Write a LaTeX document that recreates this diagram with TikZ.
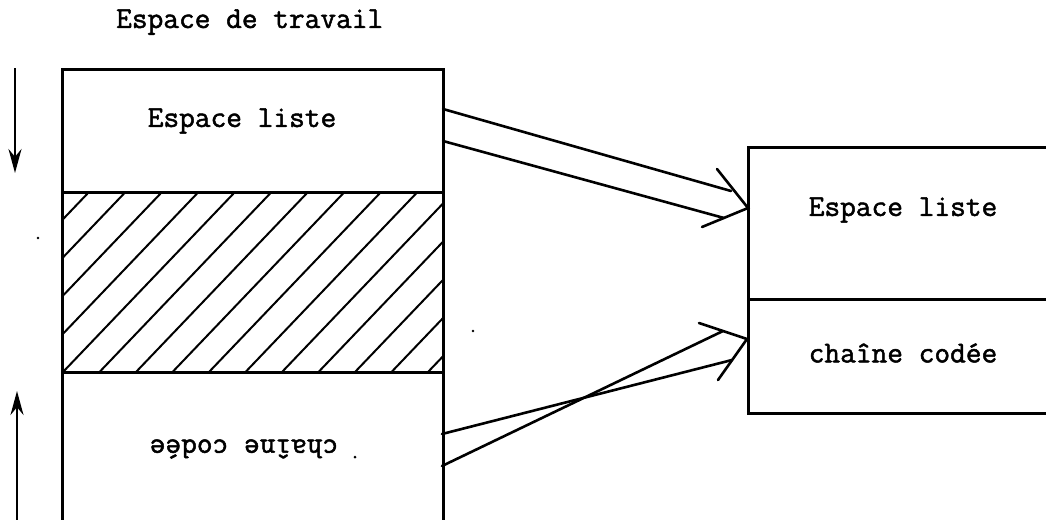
\documentclass[tikz,border=0pt]{standalone}
\usepackage{fontspec}
\newfontfamily\tw{Latin Modern Mono}[FakeBold=1.6]
\usetikzlibrary{arrows.meta}
\begin{document}
\begin{tikzpicture}[x=1pt,y=-1pt,
  boxline/.style={line width=3pt},
  hatchline/.style={line width=2pt},
  conn/.style={line width=2.6pt,line cap=round},
  vhead/.style={line width=2.6pt,line cap=round,line join=miter},
  flow/.style={line width=2.3pt,-{Stealth[length=24pt,width=13pt]}},
  lbl/.style={font=\tw\fontsize{30.5}{34}\selectfont,inner sep=0pt},
  speck/.style={fill=black,draw=none}]
\useasboundingbox (0,0) rectangle (1046,519);
% ---- left box (workspace) ----
\coordinate (LTL) at (62,69);
\coordinate (LTR) at (443,69);
\coordinate (LBL) at (62,530);
\coordinate (LBR) at (443,530);
\draw[boxline] (LBL) -- (LTL) -- (LTR) -- (LBR);
\coordinate (D1L) at (62,192); \coordinate (D1R) at (443,192);
\coordinate (D2L) at (62,372); \coordinate (D2R) at (443,372);
\draw[boxline] (D1L) -- (D1R);
\draw[boxline] (D2L) -- (D2R);
% hatching
\begin{scope}
  \clip (62,192) rectangle (443,372);
  \foreach \k in {-6,...,11}{
    \draw[hatchline] ({63+36.5*\k},372) -- ({63+36.5*\k+172},192);
  }
\end{scope}
% labels
\node[lbl,anchor=base west] (title) at (116,28) {Espace de travail};
\node[lbl] (el1) at (242,121) {Espace liste};
\node[lbl,rotate=180] (cc1) at (244,449) {chaîne codée};
% vertical arrows
\coordinate (A1s) at (15,68); \coordinate (A1e) at (15,173);
\draw[flow] (A1s) -- (A1e);
\coordinate (A2s) at (17,525); \coordinate (A2e) at (17,391);
\draw[flow] (A2s) -- (A2e);
% ---- right box ----
\coordinate (RTL) at (748,147);
\coordinate (RTR) at (1060,147);
\coordinate (RBL) at (748,413);
\coordinate (RBR) at (1060,413);
\coordinate (RDL) at (748,299);
\coordinate (RDR) at (1060,299);
\draw[boxline] (RTR) -- (RTL) -- (RBL) -- (RBR);
\draw[boxline] (RDL) -- (RDR);
\node[lbl] (el2) at (903,210) {Espace liste};
\node[lbl] (cc2) at (903,353) {chaîne codée};
% ---- upper double arrow ----
\coordinate (U1s) at (443,109); \coordinate (U1e) at (731,191);
\coordinate (U2s) at (443,141); \coordinate (U2e) at (724,218);
\coordinate (Utip) at (748,208);
\coordinate (Ub1) at (717,169); \coordinate (Ub2) at (702,227);
\draw[conn] (U1s) -- (U1e);
\draw[conn] (U2s) -- (U2e);
\draw[vhead] (Ub1) -- (Utip) -- (Ub2);
% ---- lower crossed double arrow ----
\coordinate (W1s) at (442,434); \coordinate (W1e) at (732,360);
\coordinate (W2s) at (442,466); \coordinate (W2e) at (723,331);
\coordinate (Wtip) at (747,339);
\coordinate (Wb1) at (699,323); \coordinate (Wb2) at (718,380);
\draw[conn] (W1s) -- (W1e);
\draw[conn] (W2s) -- (W2e);
\draw[vhead] (Wb1) -- (Wtip) -- (Wb2);
% specks
\fill[speck] (38,238) circle (1.3);
\fill[speck] (473,331) circle (1.3);
\fill[speck] (355,457) circle (1.5);
\end{tikzpicture}
\end{document}
